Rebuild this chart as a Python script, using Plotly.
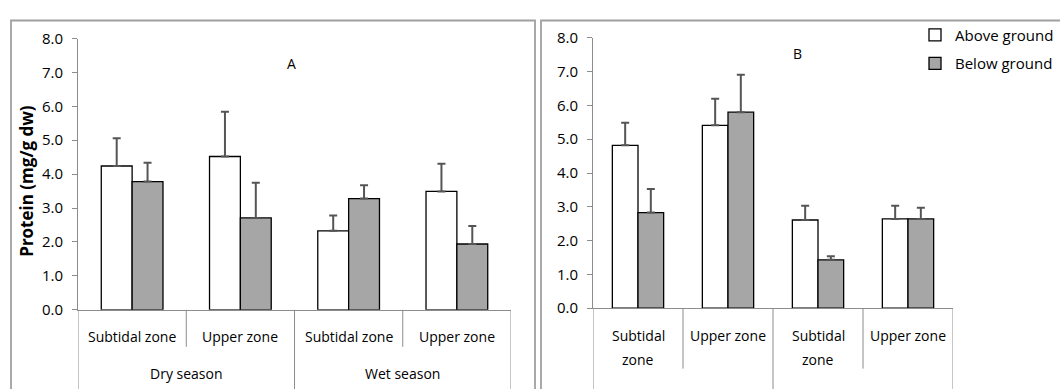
import plotly.graph_objects as go

# ---------------- data ----------------
zones_a = ["Subtidal zone", "Upper zone", "Subtidal zone", "Upper zone"]
seasons_a = ["Dry season", "Wet season"]
zones_b = [["Subtidal", "zone"], ["Upper zone"], ["Subtidal", "zone"], ["Upper zone"]]

above_a = [4.24, 4.52, 2.33, 3.49]
above_a_err = [0.82, 1.32, 0.45, 0.82]
below_a = [3.78, 2.71, 3.28, 1.94]
below_a_err = [0.56, 1.04, 0.39, 0.53]

above_b = [4.82, 5.41, 2.61, 2.64]
above_b_err = [0.67, 0.79, 0.42, 0.39]
below_b = [2.83, 5.80, 1.43, 2.64]
below_b_err = [0.70, 1.11, 0.11, 0.33]

series_names = ["Above ground", "Below ground"]
y_ticks = [0, 1, 2, 3, 4, 5, 6, 7, 8]

# ---------------- figure ----------------
W, H = 1060, 389
FONT = "Open Sans"
AX = "#8c8c8c"
ERR = "#555555"
fills = ["#ffffff", "#a6a6a6"]

def py(px):
    return 1 - px / H

def pxx(px):
    return px / W

fig = go.Figure()
pos = list(range(4))

for i, (vals, errs) in enumerate([(above_a, above_a_err), (below_a, below_a_err)]):
    fig.add_trace(go.Bar(
        x=pos, y=vals, name=series_names[i], xaxis="x", yaxis="y",
        marker=dict(color=fills[i], line=dict(color="#000000", width=1.3)),
        error_y=dict(type="data", symmetric=False, array=errs, arrayminus=[0] * 4,
                     color=ERR, thickness=2, width=4),
        showlegend=False, offsetgroup=str(i),
    ))
for i, (vals, errs) in enumerate([(above_b, above_b_err), (below_b, below_b_err)]):
    fig.add_trace(go.Bar(
        x=pos, y=vals, name=series_names[i], xaxis="x2", yaxis="y2",
        marker=dict(color=fills[i], line=dict(color="#000000", width=1.3)),
        error_y=dict(type="data", symmetric=False, array=errs, arrayminus=[0] * 4,
                     color=ERR, thickness=2, width=4),
        showlegend=True, offsetgroup=str(i), legendgroup=series_names[i],
    ))

yax = dict(range=[0, 8], tickvals=y_ticks, tickformat=".1f", showgrid=False,
           showline=True, linecolor=AX, linewidth=1, ticks="outside", ticklen=5,
           tickcolor=AX, tickfont=dict(family=FONT, size=15, color="#000"),
           zeroline=False, ticklabelstandoff=6)
xax = dict(range=[-0.5, 3.5], showgrid=False, showline=True, linecolor=AX,
           linewidth=1, showticklabels=False, ticks="", zeroline=False)

fig.update_layout(
    width=W, height=H, margin=dict(l=0, r=0, t=0, b=0),
    paper_bgcolor="white", plot_bgcolor="white",
    barmode="group", bargap=0.43, bargroupgap=0,
    font=dict(family=FONT, size=14, color="#000"),
    xaxis=dict(domain=[pxx(78), pxx(511)], anchor="y", **xax),
    yaxis=dict(domain=[py(315), py(29)], anchor="x", **yax),
    xaxis2=dict(domain=[pxx(593), pxx(953)], anchor="y2", **xax),
    yaxis2=dict(domain=[py(313.3), py(28.3)], anchor="x2", **yax),
    legend=dict(x=pxx(915), y=py(8), xanchor="left", yanchor="top",
                font=dict(family=FONT, size=15, color="#000"),
                bgcolor="rgba(0,0,0,0)", tracegroupgap=6, itemwidth=30),
)

shapes = []
# panel borders
shapes.append(dict(type="rect", xref="paper", yref="paper", x0=pxx(11), x1=pxx(535),
                   y0=-0.1, y1=py(10), line=dict(color="#a0a0a0", width=1.8),
                   layer="below"))
shapes.append(dict(type="rect", xref="paper", yref="paper", x0=pxx(541), x1=1.05,
                   y0=-0.1, y1=py(10), line=dict(color="#a0a0a0", width=1.8),
                   layer="below"))
# category dividers
for xr, y0px, inner_end in [("x", 315, 354), ("x2", 313.3, 377)]:
    for b in [-0.5, 1.5, 3.5]:
        shapes.append(dict(type="line", xref=xr, yref="paper", x0=b, x1=b,
                           y0=py(y0px), y1=-0.05, line=dict(color=AX, width=1)))
    for b in [0.5, 2.5]:
        shapes.append(dict(type="line", xref=xr, yref="paper", x0=b, x1=b,
                           y0=py(y0px), y1=py(inner_end), line=dict(color=AX, width=1)))
fig.update_layout(shapes=shapes)

ann = []
for i, z in enumerate(zones_a):
    ann.append(dict(x=i, y=py(343), xref="x", yref="paper", text=z, showarrow=False,
                    font=dict(family=FONT, size=14), xanchor="center", yanchor="middle"))
for j, s in enumerate(seasons_a):
    ann.append(dict(x=2 * j + 0.5, y=py(382), xref="x", yref="paper", text=s,
                    showarrow=False, font=dict(family=FONT, size=14),
                    xanchor="center", yanchor="middle"))
for i, lines in enumerate(zones_b):
    for k, t in enumerate(lines):
        ann.append(dict(x=i, y=py(342 + 25 * k), xref="x2", yref="paper", text=t,
                        showarrow=False, font=dict(family=FONT, size=14),
                        xanchor="center", yanchor="middle"))
ann.append(dict(x=pxx(291), y=py(55), xref="paper", yref="paper", text="A",
                showarrow=False, font=dict(family=FONT, size=14),
                xanchor="center", yanchor="middle"))
ann.append(dict(x=pxx(797), y=py(45), xref="paper", yref="paper", text="B",
                showarrow=False, font=dict(family=FONT, size=14),
                xanchor="center", yanchor="middle"))
ann.append(dict(x=pxx(27), y=py(179), xref="paper", yref="paper",
                text="<b>Protein (mg/g dw)</b>", textangle=-90, showarrow=False,
                font=dict(family=FONT, size=17), xanchor="center", yanchor="middle"))
fig.update_layout(annotations=ann)

fig.write_html("out.html")
